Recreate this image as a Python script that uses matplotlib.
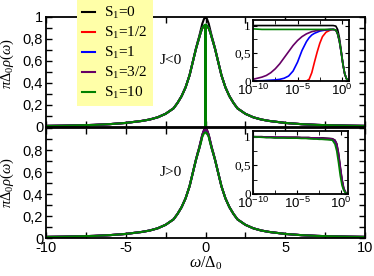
import numpy as np
import matplotlib
matplotlib.use('Agg')
import matplotlib.pyplot as plt
from matplotlib.ticker import MultipleLocator, FuncFormatter, FixedLocator

plt.rcParams['font.family'] = 'Liberation Sans'
plt.rcParams['mathtext.fontset'] = 'custom'
plt.rcParams['mathtext.rm'] = 'Liberation Serif'
plt.rcParams['mathtext.it'] = 'Liberation Serif:italic'
plt.rcParams['axes.unicode_minus'] = False

# spin labels and colours
spins = ['0', '1/2', '1', '3/2', '10']
colors = ['black', '#ff0000', '#0000ff', '#660066', '#008000']

# --- main panels: values ---
# near the peak (omega = 0, 0.02, 0.1 ... 0.5)
omega_core = [0.0, 0.02, 0.1, 0.2, 0.3, 0.4, 0.5]
# tail, same for all curves (omega = 0.6 ... 10)
omega_tail = [0.6, 0.8, 1.0, 1.25, 1.5, 1.75, 2.0, 2.5, 3.0, 3.5, 4.0, 5.0, 6.0, 7.0, 8.0, 9.0, 10.0]
rho_tail = [0.71, 0.59, 0.47, 0.36, 0.28, 0.22, 0.17, 0.12, 0.088, 0.068, 0.055, 0.037, 0.026, 0.019, 0.015, 0.012, 0.010]

core_neg = [
    [1.00, 1.00, 0.98, 0.94, 0.88, 0.82, 0.77],   # S1=0
    [0.00, 0.89, 0.91, 0.90, 0.86, 0.81, 0.76],   # S1=1/2
    [0.00, 0.91, 0.92, 0.90, 0.86, 0.81, 0.76],   # S1=1
    [0.00, 0.92, 0.92, 0.90, 0.86, 0.81, 0.76],   # S1=3/2
    [0.00, 0.93, 0.92, 0.90, 0.86, 0.81, 0.76],   # S1=10
]
core_pos = [
    [1.00, 1.00, 0.98, 0.94, 0.88, 0.82, 0.77],
    [0.98, 0.98, 0.97, 0.93, 0.87, 0.81, 0.76],
    [0.98, 0.98, 0.97, 0.93, 0.87, 0.81, 0.76],
    [0.99, 0.99, 0.975, 0.935, 0.875, 0.815, 0.765],
    [0.96, 0.96, 0.95, 0.92, 0.86, 0.81, 0.76],
]

# --- insets: log10(omega) grid ---
log_w = [-10, -9, -8.5, -8, -7.5, -7, -6.5, -6, -5.5, -5, -4.5, -4, -3.7, -3.4, -3.1,
         -2.8, -2.5, -2.2, -1.8, -1.3, -1.0, -0.7, -0.5, -0.3, -0.1, 0.1, 0.3, 0.5, 0.7]

inset_neg = [
    [1.0] * 21 + [0.99, 0.93, 0.78, 0.55, 0.30, 0.12, 0.04, 0.01],
    [0, 0, 0, 0, 0, 0, 0, 0, 0, 0, 0, 0, 0.03, 0.15, 0.34, 0.52, 0.68, 0.80, 0.88, 0.92, 0.93,
     0.92, 0.85, 0.72, 0.52, 0.30, 0.13, 0.04, 0.01],
    [0.0, 0.005, 0.01, 0.015, 0.02, 0.03, 0.05, 0.09, 0.18, 0.34, 0.55, 0.71, 0.78, 0.83, 0.86,
     0.88, 0.90, 0.91, 0.92, 0.93, 0.93, 0.92, 0.85, 0.72, 0.52, 0.30, 0.13, 0.04, 0.01],
    [0.03, 0.07, 0.10, 0.15, 0.22, 0.31, 0.42, 0.53, 0.64, 0.73, 0.80, 0.85, 0.87, 0.89, 0.90,
     0.91, 0.915, 0.92, 0.925, 0.93, 0.93, 0.92, 0.85, 0.72, 0.52, 0.30, 0.13, 0.04, 0.01],
    [0.94] + [0.93] * 20 + [0.92, 0.85, 0.72, 0.52, 0.30, 0.13, 0.04, 0.01],
]
inset_pos = [
    [1.0, 1.0, 0.995, 0.995, 0.99, 0.99, 0.99, 0.99, 0.99, 0.99, 0.985, 0.985, 0.985, 0.98, 0.98,
     0.98, 0.98, 0.98, 0.975, 0.97, 0.965, 0.94, 0.88, 0.72, 0.48, 0.26, 0.10, 0.03, 0.01],
    [1.0, 0.995, 0.99, 0.99, 0.985, 0.985, 0.985, 0.98, 0.98, 0.98, 0.975, 0.975, 0.975, 0.97, 0.97,
     0.97, 0.97, 0.965, 0.96, 0.955, 0.95, 0.92, 0.84, 0.66, 0.43, 0.22, 0.08, 0.025, 0.008],
    [1.0, 0.995, 0.99, 0.99, 0.985, 0.985, 0.985, 0.98, 0.98, 0.98, 0.975, 0.975, 0.975, 0.97, 0.97,
     0.97, 0.97, 0.965, 0.96, 0.955, 0.95, 0.92, 0.84, 0.66, 0.43, 0.22, 0.08, 0.025, 0.008],
    [1.0, 1.0, 0.995, 0.995, 0.99, 0.99, 0.99, 0.99, 0.99, 0.99, 0.985, 0.985, 0.985, 0.98, 0.98,
     0.98, 0.98, 0.975, 0.97, 0.965, 0.96, 0.935, 0.87, 0.70, 0.46, 0.24, 0.09, 0.03, 0.01],
    [1.0, 0.99, 0.985, 0.985, 0.98, 0.98, 0.98, 0.975, 0.975, 0.975, 0.97, 0.97, 0.965, 0.965, 0.96,
     0.96, 0.955, 0.955, 0.95, 0.945, 0.94, 0.87, 0.75, 0.55, 0.32, 0.15, 0.06, 0.02, 0.005],
]


def full_curve(core):
    w_half = np.array(omega_core + omega_tail)
    r_half = np.array(core + rho_tail)
    w = np.concatenate([-w_half[:0:-1], w_half])
    r = np.concatenate([r_half[:0:-1], r_half])
    return w, r


comma = FuncFormatter(lambda v, p: ('%g' % v).replace('.', ','))

W, H = 374, 276
fig = plt.figure(figsize=(W / 100, H / 100), dpi=100)
ax_top = fig.add_axes([46 / W, 1 - 127 / H, 319 / W, 110 / H])
ax_bot = fig.add_axes([46 / W, 1 - 238 / H, 319 / W, 110 / H])

for ax, cores, tag in [(ax_top, core_neg, 'J<0'), (ax_bot, core_pos, 'J>0')]:
    for core, c, s in zip(cores, colors, spins):
        w, r = full_curve(core)
        ax.plot(w, r, color=c, lw=1.5, label=r'S$_1$=' + s)
    ax.set_xlim(-10, 10)
    ax.set_ylim(0, 1)
    ax.xaxis.set_major_locator(MultipleLocator(5))
    ax.xaxis.set_minor_locator(MultipleLocator(2.5))
    ax.yaxis.set_major_locator(MultipleLocator(0.2))
    ax.yaxis.set_minor_locator(MultipleLocator(0.1))
    ax.tick_params(which='both', direction='in', top=True, right=True, labelsize=10.5, pad=2)
    ax.tick_params(which='major', length=4, width=1)
    ax.tick_params(which='minor', length=4, width=1)
    ax.yaxis.set_major_formatter(comma)
    for sp in ax.spines.values():
        sp.set_linewidth(1.3)
    ax.text(-2.2, 0.6, tag, family='Liberation Serif', fontsize=11, ha='center', va='center')
    ax.set_ylabel(r'$\pi\Delta_0\rho(\omega)$', fontsize=10.5)
    ax.yaxis.set_label_coords(-0.093, 0.5)

ax_top.yaxis.set_label_coords(-0.093, 0.58)
ax_top.tick_params(labelbottom=False)
ax_bot.yaxis.set_major_formatter(FuncFormatter(
    lambda v, p: '' if v > 0.95 else ('%g' % v).replace('.', ',')))
ax_bot.set_xlabel(r'$\omega/\Delta_0$', fontsize=11.5, labelpad=0)

# insets
ins_top = fig.add_axes([253 / W, 1 - 81 / H, 96 / W, 61 / H])
ins_bot = fig.add_axes([253 / W, 1 - 194 / H, 95 / W, 63 / H])
for ax, curves in [(ins_top, inset_neg), (ins_bot, inset_pos)]:
    x = 10.0 ** np.array(log_w)
    for vals, c in zip(curves, colors):
        ax.plot(x, vals, color=c, lw=1.2)
    ax.set_xscale('log')
    ax.set_xlim(1e-10, 6)
    ax.set_ylim(0, 1.1)
    ax.xaxis.set_major_locator(FixedLocator([1e-10, 1e-5, 1e0]))
    ax.xaxis.set_minor_locator(FixedLocator([10 ** -7.5, 10 ** -2.5]))
    ax.yaxis.set_major_locator(FixedLocator([0, 0.5, 1]))
    ax.yaxis.set_minor_locator(FixedLocator([0.25, 0.75]))
    ax.yaxis.set_major_formatter(comma)
    ax.tick_params(which='both', direction='in', top=True, right=True, length=3,
                   labelsize=9.5, pad=1.5)
    for lab in ax.get_yticklabels():
        lab.set_family('Liberation Serif')
    for sp in ax.spines.values():
        sp.set_linewidth(1.3)

handles, labels = ax_top.get_legend_handles_labels()
leg = fig.legend(handles, labels, loc='upper left', bbox_to_anchor=(77 / W, 1.0),
                 prop={'family': 'Liberation Serif', 'size': 11}, frameon=True,
                 fancybox=False, facecolor='#ffffa8', edgecolor='none', framealpha=1,
                 handlelength=0.8, handletextpad=0.6, labelspacing=0.25, borderpad=0.35,
                 borderaxespad=0)

fig.savefig('out.png', dpi=100)
